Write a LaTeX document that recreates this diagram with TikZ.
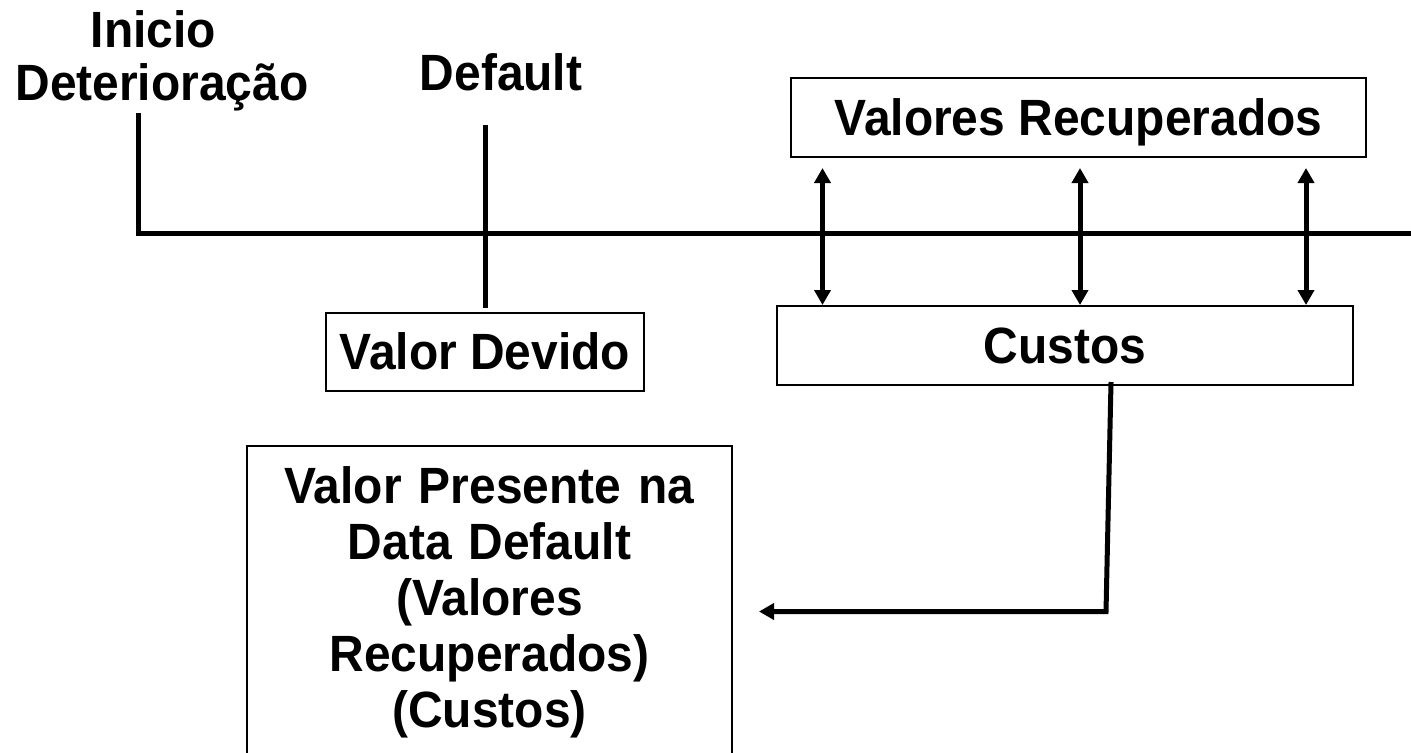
\documentclass[tikz,border=0pt]{standalone}
\usepackage{fontspec}
\setmainfont{Liberation Sans}[FakeStretch=0.94]
\usetikzlibrary{arrows.meta}
\begin{document}
\begin{tikzpicture}[x=0.1mm,y=-0.1mm,
  bigfont/.style={font=\fontsize{14.51pt}{15.93pt}\selectfont\bfseries},
  lbl/.style={bigfont, inner sep=0pt, anchor=base},
  box/.style={draw, line width=0.2mm, bigfont, inner sep=0pt, text height=3.65mm, text depth=0pt},
  vpbox/.style={draw, line width=0.2mm, bigfont, align=center, text width=48.5mm, inner xsep=0pt, inner ysep=2.1mm, anchor=north},
  tline/.style={line width=0.5mm},
  dbl/.style={line width=0.5mm, {Triangle[length=1.5mm,width=1.6mm]}-{Triangle[length=1.5mm,width=1.6mm]}},
  sgl/.style={line width=0.5mm, -{Triangle[length=1.5mm,width=1.6mm]}},
]
\useasboundingbox (0,0) rectangle (1411,752);

% labels
\node[lbl] (inicio) at (153.5,47) {Inicio};
\node[lbl] (deter) at (162,100) {Deteriora\c{c}\~ao};
\node[lbl] (default) at (501,90) {Default};

% boxes
\node[box, minimum width=57.5mm, minimum height=7.9mm] (vr) at (1078.5,117.5) {Valores Recuperados};
\node[box, minimum width=57.6mm, minimum height=7.9mm] (cu) at (1065,345.5) {Custos};
\node[box, minimum width=31.8mm, minimum height=7.8mm] (vd) at (485,351.7) {Valor Devido};
\node[vpbox] (vp) at (489.5,445) {Valor Presente na\\Data Default\\(Valores\\Recuperados)\\(Custos)};

% timeline
\coordinate (i1) at (138,113);
\coordinate (t0) at (138,233.5);
\coordinate (tend) at (1411,233.5);
\draw[tline, line join=miter] (i1) -- (t0) -- (tend);

% default line
\coordinate (d1) at (485.5,125);
\coordinate (d2) at (485.5,308);
\draw[tline] (d1) -- (d2);

% double arrows
\coordinate (a1t) at (822.5,168);
\coordinate (a1b) at (822.5,305);
\coordinate (a2t) at (1080,168);
\coordinate (a2b) at (1080,305);
\coordinate (a3t) at (1306,168);
\coordinate (a3b) at (1306,305);
\draw[dbl] (a1t) -- (a1b);
\draw[dbl] (a2t) -- (a2b);
\draw[dbl] (a3t) -- (a3b);

% connector from Custos to Valor Presente
\coordinate (c1) at (1111,382);
\coordinate (c2) at (1106,611.5);
\coordinate (c3) at (759,611.5);
\draw[sgl, line join=miter] (c1) -- (c2) -- (c3);
\end{tikzpicture}
\end{document}
